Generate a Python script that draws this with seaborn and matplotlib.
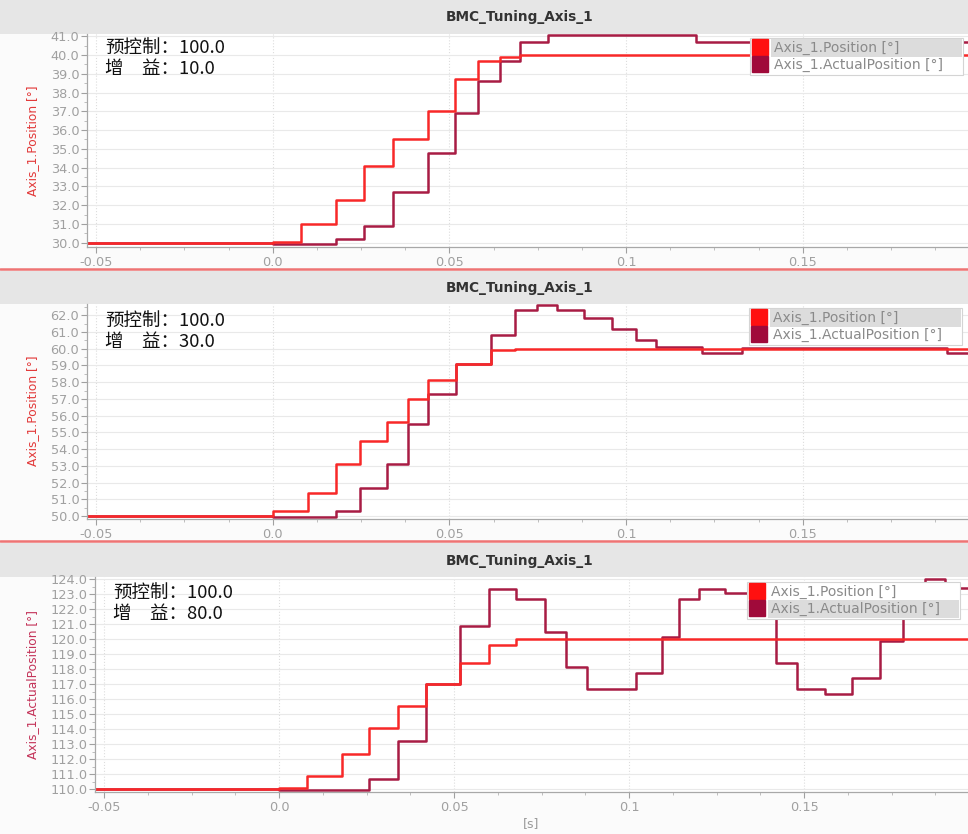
import numpy as np
import pandas as pd
import matplotlib
matplotlib.use("Agg")
import matplotlib.pyplot as plt
import seaborn as sns
from matplotlib.lines import Line2D
from matplotlib.patches import Rectangle
from matplotlib.ticker import MultipleLocator, FuncFormatter

sns.set_theme(style="white")
plt.rcParams['font.family'] = ['DejaVu Sans', 'Noto Sans CJK SC']

# ---- trace data: step samples [s] and axis positions [°] ----
time_g10 = [-0.06, 0.0, 0.0081, 0.0178, 0.0259, 0.0341, 0.0438, 0.0516, 0.058,
            0.0643, 0.070, 0.078, 0.1198, 0.2]
pos_g10 = [30.0, 30.05, 31.0, 32.3, 34.1, 35.5, 37.0, 38.7, 39.7,
           39.9, 40.0, 40.0, 40.0, 40.0]
act_g10 = [30.0, 29.95, 29.95, 30.2, 30.9, 32.7, 34.8, 36.9, 38.6,
           39.7, 40.7, 41.07, 40.7, 40.7]

time_g30 = [-0.06, 0.0, 0.0099, 0.018, 0.0246, 0.0324, 0.0383, 0.0439, 0.052,
            0.0617, 0.0685, 0.0747, 0.0805, 0.088, 0.096, 0.1027, 0.1086,
            0.1216, 0.1327, 0.1908, 0.2]
pos_g30 = [50.0, 50.3, 51.35, 53.1, 54.5, 55.6, 57.0, 58.1, 59.07,
           59.9, 60.0, 60.0, 60.0, 60.0, 60.0, 60.0, 60.0,
           60.0, 60.0, 60.0, 60.0]
act_g30 = [50.0, 49.95, 49.95, 50.3, 51.7, 53.1, 55.5, 57.3, 59.07,
           60.8, 62.3, 62.6, 62.3, 61.85, 61.2, 60.5, 60.1,
           59.75, 60.05, 59.75, 59.75]

time_g80 = [-0.06, 0.0, 0.0081, 0.018, 0.0257, 0.034, 0.0421, 0.0516, 0.06,
            0.0678, 0.0759, 0.0819, 0.088, 0.1019, 0.1093, 0.1143, 0.12,
            0.1275, 0.1419, 0.148, 0.1559, 0.1637, 0.1716, 0.1783, 0.1845,
            0.1902, 0.2]
pos_g80 = [110.0, 110.07, 110.9, 112.35, 114.07, 115.55, 117.0, 118.4, 119.62,
           120.0, 120.0, 120.0, 120.0, 120.0, 120.0, 120.0, 120.0,
           120.0, 120.0, 120.0, 120.0, 120.0, 120.0, 120.0, 120.0,
           120.0, 120.0]
act_g80 = [110.0, 109.95, 109.95, 109.95, 110.7, 113.2, 117.0, 120.9, 123.33,
           122.67, 120.5, 118.13, 116.67, 117.73, 120.17, 122.67, 123.33,
           123.07, 118.4, 116.67, 116.35, 117.4, 119.9, 122.7, 124.0,
           123.4, 123.4]

feedforward = [100.0, 100.0, 100.0]
gains = [10.0, 30.0, 80.0]
series_names = ['Axis_1.Position [°]', 'Axis_1.ActualPosition [°]']
y_labels = ['Axis_1.Position [°]', 'Axis_1.Position [°]', 'Axis_1.ActualPosition [°]']
chart_title = 'BMC_Tuning_Axis_1'

C_POS = '#f82828'
C_ACT = '#a81c44'
SWATCH = {series_names[0]: '#ff1010', series_names[1]: '#a00a3a'}
palette = {series_names[0]: C_POS, series_names[1]: C_ACT}

W, H = 968, 834
fig = plt.figure(figsize=(W / 100, H / 100), dpi=100, facecolor='#fbfbfb')


def add_px_axes(left, top, right, bottom):
    return fig.add_axes([left / W, 1 - bottom / H, (right - left) / W, (bottom - top) / H])


def band(top, bottom, color):
    fig.patches.append(Rectangle((0, 1 - bottom / H), 1, (bottom - top) / H,
                                 transform=fig.transFigure, facecolor=color,
                                 edgecolor='none', zorder=-5))


# panel geometry in pixels: (left, top, right, bottom), title band, y-limits
panels = [
    dict(t=time_g10, pos=pos_g10, act=act_g10, box=(87, 33.5, 968, 247),
         band=(0, 33.5), ylim=(29.77, 41.15), title_y=17, text_xy=(105, 47),
         leg=(750, 38), hl=0),
    dict(t=time_g30, pos=pos_g30, act=act_g30, box=(87, 303.5, 968, 518.5),
         band=(271, 303.5), ylim=(49.85, 62.7), title_y=288, text_xy=(105, 320),
         leg=(749, 308), hl=0),
    dict(t=time_g80, pos=pos_g80, act=act_g80, box=(95, 576.7, 968, 792),
         band=(543, 576.7), ylim=(109.8, 124.17), title_y=561, text_xy=(113, 592),
         leg=(747, 582), hl=1),
]


def xfmt(v, _):
    if abs(v) < 1e-9:
        return '0.0'
    return f'{v:g}'


legends = []
for i, p in enumerate(panels):
    band(p['band'][0], p['band'][1], '#e6e6e6')
    l, t, r, b = p['box']
    ax = add_px_axes(l, t, r, b)
    ax.set_facecolor('white')

    df = pd.DataFrame({'t': p['t'], series_names[0]: p['pos'], series_names[1]: p['act']})
    long = df.melt('t', var_name='signal', value_name='value')
    sns.lineplot(data=long, x='t', y='value', hue='signal',
                 hue_order=[series_names[1], series_names[0]],
                 palette=palette, drawstyle='steps-post', estimator=None,
                 linewidth=1.8, legend=False, ax=ax)

    ax.set_xlim(-0.0526, 0.1968)
    ax.set_ylim(*p['ylim'])

    ax.xaxis.set_major_locator(MultipleLocator(0.05))
    ax.xaxis.set_minor_locator(MultipleLocator(0.0125))
    ax.xaxis.set_major_formatter(FuncFormatter(xfmt))
    ax.yaxis.set_major_locator(MultipleLocator(1.0))
    ax.yaxis.set_minor_locator(MultipleLocator(0.5))
    ax.yaxis.set_major_formatter(FuncFormatter(lambda v, _: f'{v:.1f}'))

    ax.tick_params(axis='both', which='major', direction='out', length=4, width=0.8,
                   colors='#a0a0a0', labelsize=9.3, labelcolor='#a0a0a0',
                   bottom=True, left=True)
    ax.tick_params(axis='both', which='minor', direction='out', length=2.5, width=0.6,
                   colors='#b4b4b4', bottom=True, left=True)
    ax.tick_params(axis='x', pad=2.5)
    ax.tick_params(axis='y', pad=1.5)

    ax.grid(True, axis='y', which='major', color='#e9e9e9', linewidth=0.8)
    ax.grid(True, axis='x', which='major', color='#dddddd', linewidth=0.8, linestyle=':')
    ax.set_axisbelow(True)

    for side in ('top', 'right'):
        ax.spines[side].set_visible(False)
    for side in ('left', 'bottom'):
        ax.spines[side].set_color('#a8a8a8')
        ax.spines[side].set_linewidth(0.9)

    ycol = '#e23a3a' if i < 2 else '#c4345a'
    ax.set_ylabel(y_labels[i], color=ycol, fontsize=8.8, labelpad=8)
    if i == 2:
        ax.set_xlabel('[s]', color='#9a9a9a', fontsize=9, labelpad=2)
    else:
        ax.set_xlabel('')

    # chart title in the header band
    fig.text(520 / W, 1 - p['title_y'] / H, chart_title,
             ha='center', va='center', fontsize=9.8, fontweight='bold', color='#333333')

    # tuning parameters
    tx, ty = p['text_xy']
    fig.text(tx / W, 1 - (ty + 1) / H, f'预控制：{feedforward[i]:.1f}',
             family=['Noto Sans CJK SC', 'DejaVu Sans'], fontsize=13.3,
             color='#111111', va='center', ha='left')
    fig.text(tx / W, 1 - (ty + 22) / H, f'增\u3000益：{gains[i]:.1f}',
             family=['Noto Sans CJK SC', 'DejaVu Sans'], fontsize=13.3,
             color='#111111', va='center', ha='left')

    # legend with square swatches; its panel is drawn separately below
    handles = [Line2D([], [], marker='s', linestyle='none', markersize=11,
                      markerfacecolor=SWATCH[n], markeredgecolor=SWATCH[n])
               for n in series_names]
    lx, ly = p['leg']
    bx = (lx - l) / (r - l)
    by = (b - ly) / (b - t)
    leg = ax.legend(handles, series_names, loc='upper left', bbox_to_anchor=(bx, by),
                    frameon=True, fancybox=False, fontsize=10, handlelength=1.0,
                    handletextpad=0.5, borderpad=0.22, labelspacing=0.18,
                    borderaxespad=0.0)
    fr = leg.get_frame()
    fr.set_facecolor('none')
    fr.set_edgecolor('none')
    for txt in leg.get_texts():
        txt.set_color('#8a8a8a')
    legends.append((ax, leg, p['hl']))

# legend background and highlighted row, sized from the rendered legend
fig.canvas.draw()
renderer = fig.canvas.get_renderer()
for ax, leg, hl in legends:
    inv = ax.transAxes.inverted()
    fb = leg.get_frame().get_window_extent(renderer)
    right = fb.x1 + 17
    (fx0, fy0), (fx1, fy1) = inv.transform([[fb.x0, fb.y0], [right, fb.y1]])
    ax.add_patch(Rectangle((fx0, fy0), fx1 - fx0, fy1 - fy0, transform=ax.transAxes,
                           facecolor='white', edgecolor='#d4d4d4', linewidth=0.8,
                           zorder=4.6, clip_on=False))
    tb = leg.get_texts()[hl].get_window_extent(renderer)
    (hx0, hy0), (hx1, hy1) = inv.transform([[tb.x0 - 3, tb.y0 - 2], [right - 1, tb.y1 + 2]])
    ax.add_patch(Rectangle((hx0, hy0), hx1 - hx0, hy1 - hy0, transform=ax.transAxes,
                           facecolor='#dcdcdc', edgecolor='none', zorder=4.7,
                           clip_on=False))

# red separators between the trace windows
for yy in (268.5, 540.5):
    fig.add_artist(Line2D([0, 1], [1 - yy / H, 1 - yy / H], transform=fig.transFigure,
                          color='#ee7474', linewidth=1.8))

fig.savefig('out.png', dpi=100, facecolor=fig.get_facecolor())
